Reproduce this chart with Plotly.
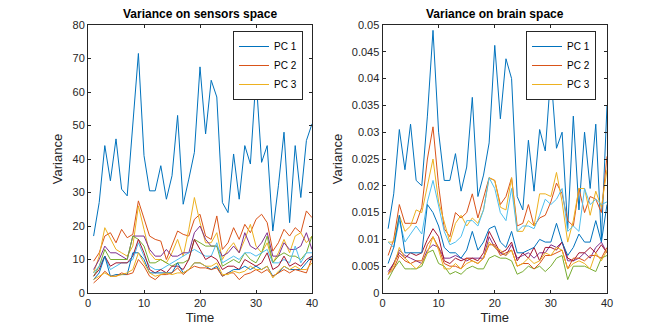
import plotly.graph_objects as go

time = list(range(1, 41))

# Left panel: variance on sensors space (10 principal components)
sens_pc1 = [17, 27, 44, 33.5, 46, 31, 29, 50, 71.5, 41, 30.5, 30.5, 38, 28, 35, 53, 26.5, 34, 42, 67.5,
            47.5, 63.5, 58.5, 27, 24, 41.5, 28, 44, 38.5, 64.5, 39, 44, 18.5, 32, 48, 21, 44, 28.5, 45.5, 50.5]
sens_pc2 = [9.5, 12, 17, 18, 15, 19, 16.5, 17.5, 27.5, 22, 17, 16, 15.5, 10, 14, 18.5, 17.5, 17, 22, 23.5,
            17, 16, 23, 13, 15, 19.5, 16, 20.5, 18, 22, 23.5, 21, 12.5, 15, 19, 17, 19.5, 18, 24.5, 22.5]
sens_pc3 = [6, 11, 19.5, 16, 13, 12, 11, 14, 26, 19, 12, 10, 10, 9, 12, 16, 11, 19, 28.5, 21,
            15, 15, 18, 10, 13, 15, 12, 16, 20.5, 14, 12, 15, 9, 12, 16, 12, 17, 18, 15, 17]
sens_pc4 = [7, 10, 14, 12, 12, 11, 10, 17, 17, 17, 13, 11, 11, 13, 11, 11, 12, 12, 18, 20,
            16, 14, 14, 11, 12, 14, 12, 18, 14, 13, 15, 18, 11, 11, 15, 13, 13, 14, 18, 13]
sens_pc5 = [5, 8, 13, 10, 10, 10, 10, 17, 16, 14, 9, 9, 10, 9, 8, 9, 9, 10, 16, 15,
            14, 14, 14, 8, 9, 10, 9, 12, 10, 9, 12, 17, 9, 11, 12, 11, 11, 10, 12, 17]
sens_pc6 = [6, 8, 11, 7, 8, 9, 9, 10, 15, 11, 8, 7, 7, 8, 9, 10, 11, 12, 13, 12,
            11, 11, 15, 9, 10, 11, 10, 12, 12, 11, 12, 13, 9, 9, 10, 9, 14, 9, 12, 12]
sens_pc7 = [5, 7, 11, 8, 9, 9, 9, 11, 16, 12, 7, 6, 7, 6, 8, 8, 7, 10, 16, 13,
            10, 11, 10, 7, 8, 8, 7, 10, 9, 8, 9, 12, 7, 8, 11, 8, 9, 8, 10, 11]
sens_pc8 = [4, 6, 11, 5, 5.5, 5.5, 5.5, 12, 12, 10, 6, 6, 6, 6, 6, 9, 6, 7, 9, 9,
            8, 7, 8, 5, 6, 7, 7, 8, 7, 8, 7, 8, 5, 6, 8, 7, 7, 7, 9, 11]
sens_pc9 = [3, 4.5, 6.5, 5, 5, 6, 5.5, 6, 10, 8, 5, 4, 5.5, 5.5, 6, 7.5, 5.5, 7, 8, 7.5,
            7.5, 7, 7.5, 5, 6, 6, 4, 5.5, 6, 7, 6, 7, 5, 6, 7, 6, 7, 6.5, 6, 10.5]
sens_pc10 = [4, 5, 6, 5, 5, 5.5, 6, 7, 12, 9, 6, 5, 5.5, 6, 5.5, 6, 6, 7, 9, 9,
             8, 8, 9, 5.5, 5.5, 6.5, 6, 6.5, 8, 7, 7, 8, 4.5, 6.5, 8, 7, 8, 7, 7, 9]

# Right panel: variance on brain space
brain_pc1 = [0.012, 0.0185, 0.0305, 0.023, 0.0315, 0.021, 0.02, 0.033, 0.049, 0.03, 0.021, 0.021, 0.026, 0.019,
             0.0235, 0.0365, 0.018, 0.022, 0.028, 0.0462, 0.0325, 0.0437, 0.040, 0.018, 0.0155, 0.0285, 0.019,
             0.0305, 0.0265, 0.041, 0.027, 0.030, 0.012, 0.033, 0.0155, 0.030, 0.0195, 0.0315, 0.010, 0.035]
brain_pc2 = [0.007, 0.01, 0.0165, 0.013, 0.013, 0.013, 0.016, 0.025, 0.031, 0.02, 0.012, 0.0105, 0.015, 0.014,
             0.015, 0.0185, 0.014, 0.018, 0.0215, 0.021, 0.0165, 0.018, 0.0215, 0.0125, 0.013, 0.0165, 0.0125,
             0.014, 0.0145, 0.017, 0.0205, 0.0185, 0.0135, 0.0125, 0.0195, 0.015, 0.018, 0.0175, 0.015, 0.0255]
brain_pc3 = [0.0095, 0.0095, 0.0145, 0.0115, 0.0125, 0.0155, 0.015, 0.02, 0.025, 0.017, 0.013, 0.0095, 0.013,
             0.0145, 0.0125, 0.014, 0.013, 0.0155, 0.0215, 0.021, 0.016, 0.0155, 0.0215, 0.0115, 0.0115, 0.0135,
             0.0125, 0.0185, 0.0185, 0.018, 0.0225, 0.017, 0.0095, 0.0135, 0.0195, 0.0195, 0.0145, 0.019, 0.016, 0.023]
brain_pc4 = [0.004, 0.0055, 0.008, 0.007, 0.0065, 0.006, 0.0055, 0.008, 0.009, 0.0085, 0.0065, 0.0065, 0.007,
             0.0065, 0.006, 0.0065, 0.0065, 0.0065, 0.0105, 0.0085, 0.0075, 0.007, 0.009, 0.0065, 0.007, 0.0075,
             0.0065, 0.0075, 0.0075, 0.009, 0.0085, 0.0095, 0.006, 0.006, 0.0065, 0.0075, 0.0065, 0.0085, 0.0095, 0.0075]
brain_pc5 = [0.0025, 0.0045, 0.006, 0.0045, 0.0045, 0.0045, 0.005, 0.0075, 0.008, 0.0055, 0.005, 0.0035, 0.004,
             0.0035, 0.0045, 0.005, 0.0045, 0.0045, 0.0065, 0.007, 0.0065, 0.0065, 0.006, 0.0035, 0.004, 0.005,
             0.0045, 0.005, 0.004, 0.005, 0.0065, 0.007, 0.0025, 0.005, 0.005, 0.005, 0.0045, 0.004, 0.0065, 0.007]
brain_pc6 = [0.0095, 0.0085, 0.0135, 0.0095, 0.011, 0.0125, 0.011, 0.017, 0.021, 0.016, 0.0115, 0.009, 0.0095,
             0.0105, 0.0135, 0.0135, 0.0125, 0.0155, 0.0215, 0.0195, 0.015, 0.0135, 0.0195, 0.0115, 0.0125, 0.0125,
             0.012, 0.0145, 0.0175, 0.0165, 0.0175, 0.0195, 0.0115, 0.0125, 0.0115, 0.0195, 0.0165, 0.0175, 0.0165, 0.017]
brain_pc7 = [0.0035, 0.0055, 0.0075, 0.0065, 0.0075, 0.007, 0.0075, 0.01, 0.012, 0.0105, 0.006, 0.0055, 0.0065,
             0.006, 0.0065, 0.0065, 0.006, 0.0075, 0.0115, 0.0095, 0.0075, 0.008, 0.0095, 0.006, 0.0075, 0.0065,
             0.0085, 0.006, 0.0085, 0.0085, 0.008, 0.0095, 0.0065, 0.006, 0.0075, 0.0075, 0.0085, 0.0075, 0.009, 0.0075]
brain_pc8 = [0.0055, 0.0085, 0.0145, 0.0075, 0.0075, 0.0075, 0.0075, 0.0165, 0.015, 0.0125, 0.0085, 0.0075, 0.0075,
             0.0065, 0.008, 0.0115, 0.008, 0.0095, 0.012, 0.0125, 0.0095, 0.0085, 0.0115, 0.0075, 0.0075, 0.008,
             0.0085, 0.01, 0.0095, 0.0095, 0.013, 0.0095, 0.007, 0.0085, 0.011, 0.0095, 0.0095, 0.0135, 0.0095, 0.0165]
brain_pc9 = [0.0035, 0.0045, 0.007, 0.006, 0.0055, 0.006, 0.006, 0.009, 0.0105, 0.0085, 0.0055, 0.005, 0.005,
             0.0045, 0.0065, 0.006, 0.0055, 0.0065, 0.009, 0.009, 0.007, 0.0075, 0.008, 0.005, 0.0055, 0.0055,
             0.0045, 0.0055, 0.007, 0.007, 0.0075, 0.008, 0.0045, 0.0065, 0.0065, 0.006, 0.007, 0.007, 0.0065, 0.0085]
brain_pc10 = [0.0035, 0.005, 0.0085, 0.0065, 0.0055, 0.0045, 0.0055, 0.0075, 0.0105, 0.008, 0.0045, 0.0045, 0.0055,
              0.0045, 0.0055, 0.006, 0.0055, 0.0065, 0.0095, 0.0085, 0.008, 0.007, 0.008, 0.005, 0.0055, 0.0065,
              0.0055, 0.006, 0.0075, 0.007, 0.0085, 0.008, 0.0045, 0.0055, 0.006, 0.0055, 0.0045, 0.0075, 0.006, 0.008]

sensor_series = [sens_pc1, sens_pc2, sens_pc3, sens_pc4, sens_pc5, sens_pc6, sens_pc7, sens_pc8, sens_pc9, sens_pc10]
brain_series = [brain_pc1, brain_pc2, brain_pc3, brain_pc4, brain_pc5, brain_pc6, brain_pc7, brain_pc8, brain_pc9, brain_pc10]
legend_names = ["PC 1", "PC 2", "PC 3"]

colors = ["#0072BD", "#D95319", "#EDB120", "#7E2F8E", "#77AC30", "#4DBEEE", "#A2142F"]

# The page body has an 8px margin, so the figure is sized to fit the window
OFF = 8
W, H = 664 - OFF, 329 - OFF
FONT = "Liberation Sans, Arial, sans-serif"
INK = "#262626"


def px(x):
    return (x - OFF) / W


def py(y):
    return 1 - (y - OFF) / H


fig = go.Figure()

for i, ys in enumerate(sensor_series):
    fig.add_trace(go.Scatter(
        x=time, y=ys, mode="lines", xaxis="x", yaxis="y",
        line=dict(color=colors[i % 7], width=1),
        name=legend_names[i] if i < 3 else f"PC {i+1}",
        showlegend=i < 3, legend="legend",
    ))
for i, ys in enumerate(brain_series):
    fig.add_trace(go.Scatter(
        x=time, y=ys, mode="lines", xaxis="x2", yaxis="y2",
        line=dict(color=colors[i % 7], width=1),
        name=legend_names[i] if i < 3 else f"PC {i+1}",
        showlegend=i < 3, legend="legend2",
    ))

axis_common = dict(
    showline=True, linecolor=INK, linewidth=1, mirror="ticks",
    ticks="inside", ticklen=3, tickcolor=INK, tickwidth=1,
    showgrid=False, zeroline=False, automargin=False,
    tickfont=dict(family=FONT, size=11, color=INK),
)

fig.update_layout(
    width=W, height=H,
    margin=dict(l=0, r=0, t=0, b=0, autoexpand=False),
    paper_bgcolor="white", plot_bgcolor="white",
    font=dict(family=FONT, color=INK),
    xaxis=dict(domain=[px(88), px(312)], range=[0, 40], dtick=10, anchor="y",
               title=dict(text="Time", font=dict(size=13, color=INK), standoff=4), **axis_common),
    yaxis=dict(domain=[py(293), py(25)], range=[0, 80], dtick=10, anchor="x",
               title=dict(text="Variance", font=dict(size=13, color=INK), standoff=6), **axis_common),
    xaxis2=dict(domain=[px(382.5), px(607)], range=[0, 40], dtick=10, anchor="y2",
                title=dict(text="Time", font=dict(size=13, color=INK), standoff=4), **axis_common),
    yaxis2=dict(domain=[py(293), py(25)], range=[0, 0.05], dtick=0.005, anchor="x2",
                title=dict(text="Variance", font=dict(size=13, color=INK), standoff=6), **axis_common),
    legend=dict(x=px(303), y=py(31), xanchor="right", yanchor="top",
                bgcolor="white", bordercolor=INK, borderwidth=1,
                font=dict(family=FONT, size=10, color="black"), tracegroupgap=0),
    legend2=dict(x=px(596), y=py(31), xanchor="right", yanchor="top",
                 bgcolor="white", bordercolor=INK, borderwidth=1,
                 font=dict(family=FONT, size=10, color="black"), tracegroupgap=0),
    annotations=[
        dict(text="<b>Variance on sensors space</b>", x=px(200), y=py(14), xref="paper", yref="paper",
             showarrow=False, font=dict(family=FONT, size=12, color="black"), xanchor="center", yanchor="middle"),
        dict(text="<b>Variance on brain space</b>", x=px(494.75), y=py(14), xref="paper", yref="paper",
             showarrow=False, font=dict(family=FONT, size=12, color="black"), xanchor="center", yanchor="middle"),
    ],
)

fig.write_html("out.html")
